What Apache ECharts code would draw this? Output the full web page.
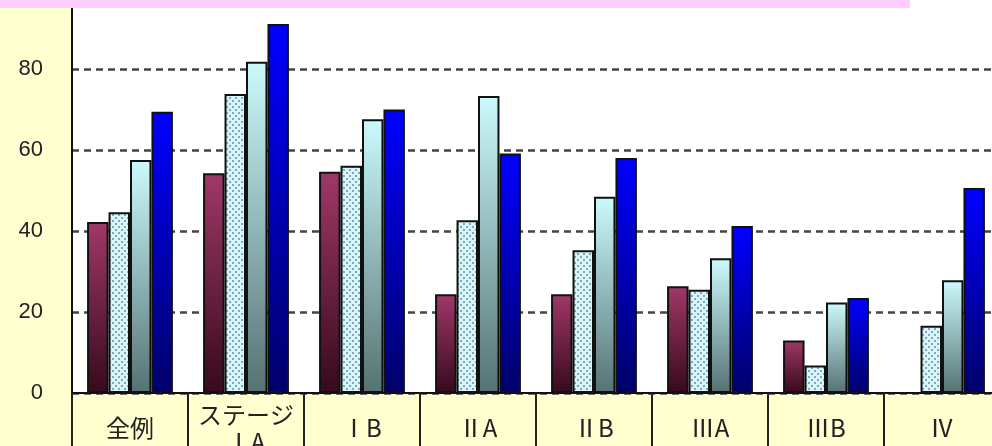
<!DOCTYPE html>
<html lang="ja">
<head>
    <meta charset="UTF-8">
    <title>ステージ別</title>
    <script src="https://cdn.jsdelivr.net/npm/echarts@6/dist/echarts.min.js"></script>
    <style>
        html, body { margin: 0; padding: 0; background: #ffffd0; }
        #main { width: 992px; height: 446px; }
    </style>
</head>
<body>
    <div id="main"></div>

    <script type="text/javascript">
        // カテゴリ
        var categories = ['全例', 'ステージ\nⅠA', 'ⅠB', 'ⅡA', 'ⅡB', 'ⅢA', 'ⅢB', 'Ⅳ'];
        // 各系列の値
        var seriesA = [42.3, 54.3, 54.7, 24.4, 24.4, 26.4, 13.0, null];
        var seriesB = [44.7, 73.9, 56.2, 42.7, 35.3, 25.5, 6.8, 16.6];
        var seriesC = [57.6, 81.9, 67.7, 73.4, 48.5, 33.3, 22.4, 27.9];
        var seriesD = [69.5, 91.2, 70.1, 59.2, 58.1, 41.3, 23.5, 50.7];
        var yTicks = [0, 20, 40, 60, 80, 100];

        // 点々の模様
        var dotCanvas = document.createElement('canvas');
        dotCanvas.width = 6;
        dotCanvas.height = 6;
        var ctx = dotCanvas.getContext('2d');
        ctx.fillStyle = '#d8f5fa';
        ctx.fillRect(0, 0, 6, 6);
        ctx.fillStyle = '#7fa9b8';
        ctx.fillRect(1, 1, 2, 2);
        ctx.fillRect(4, 4, 2, 2);

        function grad(top, bottom) {
            return new echarts.graphic.LinearGradient(0, 0, 0, 1, [
                {offset: 0, color: top},
                {offset: 1, color: bottom}
            ]);
        }

        var barBorder = {borderColor: '#111', borderWidth: 2};

        var myChart = echarts.init(document.getElementById('main'));

        var option = {
            animation: false,
            backgroundColor: '#ffffd0',
            graphic: [{
                type: 'rect',
                left: 0,
                top: 0,
                z: 100,
                shape: {width: 910, height: 8},
                style: {fill: '#ffccff'}
            }],
            grid: {
                show: true,
                backgroundColor: '#ffffff',
                borderWidth: 0,
                outerBoundsMode: 'none',
                containLabel: false,
                left: 72,
                right: -8,
                top: -11.5,
                bottom: 53
            },
            xAxis: {
                type: 'category',
                data: categories,
                axisLine: {lineStyle: {color: '#111', width: 2}},
                axisTick: {
                    show: true,
                    length: 60,
                    lineStyle: {color: '#222', width: 2}
                },
                axisLabel: {
                    interval: 0,
                    margin: 35,
                    verticalAlign: 'middle',
                    lineHeight: 27,
                    fontSize: 24,
                    color: '#222',
                    fontFamily: 'Noto Sans CJK JP'
                }
            },
            yAxis: {
                type: 'value',
                min: yTicks[0],
                max: yTicks[yTicks.length - 1],
                interval: 20,
                axisLine: {show: true, lineStyle: {color: '#111', width: 2}},
                axisTick: {show: false},
                axisLabel: {
                    margin: 29,
                    fontSize: 22,
                    color: '#222',
                    fontFamily: 'Liberation Sans'
                },
                splitLine: {
                    lineStyle: {color: '#444', width: 2.5, type: [7, 5]}
                }
            },
            series: [
                {
                    name: 'A',
                    type: 'bar',
                    barGap: '0%',
                    barCategoryGap: '26%',
                    data: seriesA,
                    itemStyle: Object.assign({color: grad('#a03868', '#360a1c')}, barBorder)
                },
                {
                    name: 'B',
                    type: 'bar',
                    data: seriesB,
                    itemStyle: Object.assign({color: {image: dotCanvas, repeat: 'repeat'}}, barBorder)
                },
                {
                    name: 'C',
                    type: 'bar',
                    data: seriesC,
                    itemStyle: Object.assign({color: grad('#ccfafc', '#557272')}, barBorder)
                },
                {
                    name: 'D',
                    type: 'bar',
                    data: seriesD,
                    itemStyle: Object.assign({color: grad('#0000ff', '#00006a')}, barBorder)
                }
            ]
        };

        myChart.setOption(option);
    </script>
</body>
</html>
